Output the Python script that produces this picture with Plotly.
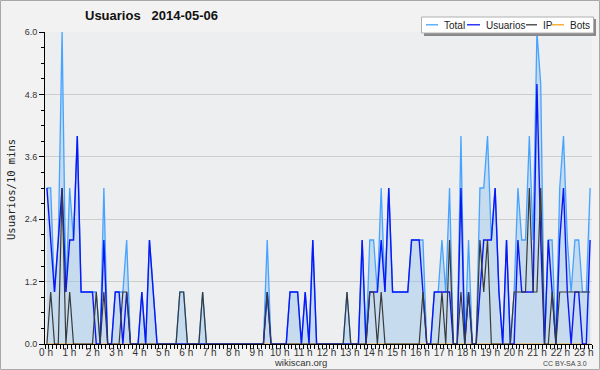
import plotly.graph_objects as go

# 10-minute slots of the day (0 = 00:00 ... 143 = 23:50)
slots = list(range(144))
hours = list(range(24))
hour_labels = ["0 h", "1 h", "2 h", "3 h", "4 h", "5 h", "6 h", "7 h", "8 h", "9 h",
               "10 h", "11 h", "12 h", "13 h", "14 h", "15 h", "16 h", "17 h",
               "18 h", "19 h", "20 h", "21 h", "22 h", "23 h"]
y_ticks = [0.0, 1.2, 2.4, 3.6, 4.8, 6.0]

usuarios = [
    3, 2, 1, 2, 3, 1,   2, 2, 4, 1, 1, 1,   1, 0, 0, 2, 0, 0,   1, 1, 0, 1, 0, 0,
    0, 1, 0, 2, 1, 0,   0, 0, 0, 0, 0, 0,   0, 0, 0, 0, 0, 0,   0, 0, 0, 0, 0, 0,
    0, 0, 0, 0, 0, 0,   0, 0, 0, 0, 1, 0,   0, 0, 0, 0, 1, 1,   1, 0, 1, 0, 2, 0,
    0, 0, 0, 0, 0, 0,   0, 0, 0, 0, 0, 2,   0, 1, 1, 1, 2, 1,   3, 1, 1, 1, 1, 1,
    2, 2, 2, 1, 0, 0,   1, 1, 1, 1, 1, 0,   0, 3, 0, 1, 0, 0,   1, 2, 2, 2, 3, 1,
    0, 2, 0, 0, 2, 1,   1, 1, 1, 5, 2, 0,   2, 1, 0, 2, 3, 1,   0, 1, 1, 0, 0, 2,
]
ip = [
    0, 1, 0, 0, 3, 0,   1, 0, 0, 0, 0, 0,   0, 1, 0, 1, 0, 0,   0, 0, 1, 1, 0, 0,
    0, 0, 0, 0, 0, 0,   0, 0, 0, 0, 0, 1,   1, 0, 0, 0, 0, 1,   0, 0, 0, 0, 0, 0,
    0, 0, 0, 0, 0, 0,   0, 0, 0, 0, 1, 0,   0, 0, 0, 0, 0, 0,   0, 0, 0, 0, 0, 0,
    0, 0, 0, 0, 0, 0,   0, 1, 0, 0, 0, 0,   0, 1, 1, 0, 1, 0,   0, 0, 0, 0, 0, 0,
    0, 0, 0, 1, 0, 0,   0, 0, 1, 0, 2, 0,   0, 1, 0, 1, 0, 0,   2, 1, 2, 0, 0, 0,
    0, 0, 0, 1, 1, 1,   1, 3, 1, 1, 3, 0,   0, 1, 0, 1, 1, 1,   1, 1, 1, 1, 1, 1,
]
total = [
    3, 3, 1, 2, 6, 1,   3, 2, 4, 1, 1, 1,   1, 1, 0, 3, 0, 0,   1, 1, 1, 2, 0, 0,
    0, 1, 0, 2, 1, 0,   0, 0, 0, 0, 0, 1,   1, 0, 0, 0, 0, 1,   0, 0, 0, 0, 0, 0,
    0, 0, 0, 0, 0, 0,   0, 0, 0, 0, 2, 0,   0, 0, 0, 0, 1, 1,   1, 0, 1, 0, 2, 0,
    0, 0, 0, 0, 0, 0,   0, 1, 0, 0, 0, 2,   0, 2, 2, 1, 3, 1,   3, 1, 1, 1, 1, 1,
    2, 2, 2, 2, 0, 0,   1, 1, 2, 1, 3, 0,   0, 4, 0, 2, 0, 0,   3, 3, 4, 2, 3, 1,
    0, 2, 0, 1, 3, 2,   2, 4, 2, 6, 5, 0,   2, 2, 0, 3, 4, 2,   1, 2, 2, 1, 1, 3,
]
bots = [
    0, 0, 0, 0, 0, 0,   0, 0, 0, 0, 0, 0,   0, 0, 0, 0, 0, 0,   0, 0, 0, 0, 0, 0,
    0, 0, 0, 0, 0, 0,   0, 0, 0, 0, 0, 0,   0, 0, 0, 0, 0, 0,   0, 0, 0, 0, 0, 0,
    0, 0, 0, 0, 0, 0,   0, 0, 0, 0, 0, 0,   0, 0, 0, 0, 0, 0,   0, 0, 0, 0, 0, 0,
    0, 0, 0, 0, 0, 0,   0, 0, 0, 0, 0, 0,   0, 0, 0, 0, 0, 0,   0, 0, 0, 0, 0, 0,
    0, 0, 0, 0, 0, 0,   0, 0, 0, 0, 0, 0,   0, 0, 0, 0, 0, 0,   0, 0, 0, 0, 0, 0,
    0, 0, 0, 0, 0, 0,   0, 0, 0, 0, 0, 0,   0, 0, 0, 0, 0, 0,   0, 0, 0, 0, 0, 0,
]

C_TOTAL = "#46a3ff"
C_USER = "#0b18f5"
C_IP = "#3a3a3a"
C_BOTS = "#ffa31a"
FONT = "Liberation Sans"

W, H = 600, 370
ML, MR, MT, MB = 45, 8, 32, 26
PW, PH = W - ML - MR, H - MT - MB

# each point sits in the middle of its 10-minute slot; the axis spans the slot edges
X_RANGE = [-0.5, 143.5]
# hour labels in the original are spread slightly wider than the hour ticks
label_pos = [-0.24 + 6.155 * h for h in hours]


def px(xp):
    return (xp - ML) / PW


def py(yp):
    return (H - MB - yp) / PH


fig = go.Figure()
fig.add_trace(go.Scatter(x=slots, y=total, mode="lines", name="Total",
                         line=dict(color=C_TOTAL, width=1.3),
                         fill="tozeroy", fillcolor="rgba(150,195,235,0.45)",
                         showlegend=False))
fig.add_trace(go.Scatter(x=slots, y=bots, mode="lines", name="Bots",
                         line=dict(color=C_BOTS, width=1), showlegend=False))
fig.add_trace(go.Scatter(x=slots, y=usuarios, mode="lines", name="Usuarios",
                         line=dict(color=C_USER, width=1.4), showlegend=False))
fig.add_trace(go.Scatter(x=slots, y=ip, mode="lines", name="IP",
                         line=dict(color=C_IP, width=1.2), showlegend=False))

shapes = []
annotations = []

# outer frame
shapes.append(dict(type="rect", xref="paper", yref="paper",
                   x0=px(0.5), x1=px(599.5), y0=py(369.5), y1=py(0.5),
                   line=dict(color="#a8a8a8", width=1), layer="above"))

# legend box (shadow + box)
shapes.append(dict(type="rect", xref="paper", yref="paper",
                   x0=px(424), x1=px(596), y0=py(36), y1=py(19),
                   line=dict(width=0), fillcolor="#8a8a8a", layer="above"))
shapes.append(dict(type="rect", xref="paper", yref="paper",
                   x0=px(421.5), x1=px(593.5), y0=py(33), y1=py(17),
                   line=dict(color="#b0b0b0", width=1), fillcolor="white", layer="above"))

legend_items = [("Total", C_TOTAL, 426, 438, 441.5),
                ("Usuarios", C_USER, 467, 480, 483.5),
                ("IP", C_IP, 526, 537, 541),
                ("Bots", C_BOTS, 552, 564, 567.5)]
for name, col, lx0, lx1, tx in legend_items:
    shapes.append(dict(type="line", xref="paper", yref="paper",
                       x0=px(lx0), x1=px(lx1), y0=py(24.8), y1=py(24.8),
                       line=dict(color=col, width=1.3), layer="above"))
    annotations.append(dict(text=name, xref="paper", yref="paper", x=px(tx), y=py(25),
                            xanchor="left", yanchor="middle", showarrow=False,
                            font=dict(family=FONT, size=10, color="#222")))

# title
annotations.append(dict(text="<b>Usuarios\u00a0\u00a0 2014-05-06</b>", xref="paper", yref="paper",
                        x=px(151), y=py(16), xanchor="center", yanchor="middle",
                        showarrow=False, font=dict(family=FONT, size=13, color="#111")))
# y title
annotations.append(dict(text="Usuarios/10 mins", xref="paper", yref="paper",
                        x=px(11), y=py(190), xanchor="center", yanchor="middle",
                        textangle=-90, showarrow=False,
                        font=dict(family="DejaVu Sans Mono", size=10.5, color="#222")))
# footer
annotations.append(dict(text="wikiscan.org", xref="paper", yref="paper",
                        x=px(300), y=py(362), xanchor="center", yanchor="middle",
                        showarrow=False, font=dict(family=FONT, size=9.5, color="#333")))
annotations.append(dict(text="CC BY-SA 3.0", xref="paper", yref="paper",
                        x=px(589), y=py(363), xanchor="right", yanchor="middle",
                        showarrow=False, font=dict(family=FONT, size=7, color="#444")))

fig.update_layout(
    width=W, height=H,
    margin=dict(l=ML, r=MR, t=MT, b=MB, pad=0),
    paper_bgcolor="#f2f2f2",
    plot_bgcolor="#edeef0",
    showlegend=False,
    shapes=shapes,
    annotations=annotations,
    xaxis=dict(range=X_RANGE, tickvals=label_pos, ticktext=hour_labels,
               showgrid=False, zeroline=False, showline=True, linecolor="black",
               linewidth=1, ticks="", ticklabelstandoff=-1,
               tickfont=dict(family=FONT, size=10, color="#333"),
               minor=dict(tick0=-0.5, dtick=1, ticks="outside", ticklen=4,
                          tickcolor="black", showgrid=False)),
    yaxis=dict(range=[0, 6], tickvals=y_ticks, tickformat=".1f",
               showgrid=True, gridcolor="#cdcdcd", gridwidth=1,
               zeroline=False, showline=True, linecolor="black", linewidth=1,
               ticks="outside", ticklen=5, tickcolor="black",
               tickfont=dict(family=FONT, size=9, color="#333"),
               minor=dict(dtick=0.3, ticks="outside", ticklen=3, tickcolor="black",
                          showgrid=False)),
)

fig.write_html("out.html", config={"displayModeBar": False},
               post_script="document.body.style.margin='0';")
